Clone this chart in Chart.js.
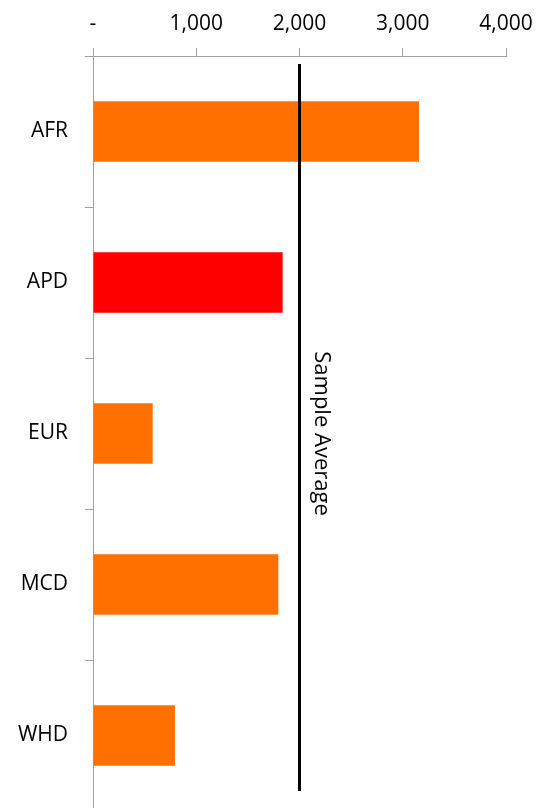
<!DOCTYPE html>
<html>
<head>
<meta charset="utf-8">
<script src="https://cdn.jsdelivr.net/npm/chart.js@4"></script>
<style>
  html, body { margin: 0; padding: 0; background: #fff; overflow: hidden; }
  #wrap { width: 539px; height: 815px; position: relative; }
</style>
</head>
<body>
<div id="wrap"><canvas id="chart"></canvas></div>
<script>
  // regions and values
  const regions = ['AFR', 'APD', 'EUR', 'MCD', 'WHD'];
  const values = [3157, 1837, 578, 1795, 794];
  const highlighted = 'APD';
  const sampleAverage = 2000;
  const averageLabel = 'Sample Average';
  const xTicks = [0, 1000, 2000, 3000, 4000];

  const ORANGE = '#FF7000';
  const RED = '#FF0000';
  const AXIS_GRAY = '#A0A0A0';
  const FONT = "'Open Sans', sans-serif";

  // vertical reference line + rotated label
  const avgLine = {
    id: 'avgLine',
    afterDatasetsDraw(chart) {
      const { ctx, chartArea, scales } = chart;
      const x = scales.x.getPixelForValue(sampleAverage);
      ctx.save();
      ctx.strokeStyle = '#000';
      ctx.lineWidth = 3;
      ctx.beginPath();
      ctx.moveTo(x, chartArea.top + 8);
      ctx.lineTo(x, chartArea.bottom - 20);
      ctx.stroke();

      ctx.translate(x + 22, (chartArea.top + chartArea.bottom) / 2);
      ctx.rotate(Math.PI / 2);
      ctx.fillStyle = '#000';
      ctx.font = '22px ' + FONT;
      ctx.textAlign = 'center';
      ctx.textBaseline = 'middle';
      ctx.fillText(averageLabel, 0, 0);
      ctx.restore();
    }
  };

  new Chart(document.getElementById('chart'), {
    type: 'bar',
    data: {
      labels: regions,
      datasets: [{
        data: values,
        backgroundColor: regions.map(r => r === highlighted ? RED : ORANGE),
        barPercentage: 0.4,
        categoryPercentage: 1.0
      }]
    },
    options: {
      indexAxis: 'y',
      responsive: true,
      maintainAspectRatio: false,
      animation: false,
      layout: { padding: { top: 10, right: 33, bottom: 4, left: 0 } },
      plugins: { legend: { display: false }, tooltip: { enabled: false } },
      scales: {
        x: {
          position: 'top',
          min: xTicks[0],
          max: xTicks[xTicks.length - 1],
          afterBuildTicks: scale => { scale.ticks = xTicks.map(v => ({ value: v })); },
          afterFit: scale => {
            scale.height = 46;
            scale.paddingLeft = 0;
            scale.paddingRight = 0;
          },
          ticks: {
            color: '#000',
            font: { family: FONT, size: 21 },
            padding: 11,
            maxRotation: 0,
            callback: v => v === 0 ? '-' : v.toLocaleString('en-US')
          },
          grid: { drawOnChartArea: false, drawTicks: true, tickLength: 8, color: AXIS_GRAY },
          border: { display: true, color: AXIS_GRAY, width: 1 }
        },
        y: {
          afterFit: scale => {
            scale.width = 93;
            scale.paddingTop = 0;
            scale.paddingBottom = 0;
          },
          ticks: {
            color: '#000',
            font: { family: FONT, size: 21 },
            padding: 17
          },
          grid: { drawOnChartArea: false, drawTicks: true, tickLength: 8, color: AXIS_GRAY, offset: true },
          border: { display: true, color: AXIS_GRAY, width: 1 }
        }
      }
    },
    plugins: [avgLine]
  });
</script>
</body>
</html>
